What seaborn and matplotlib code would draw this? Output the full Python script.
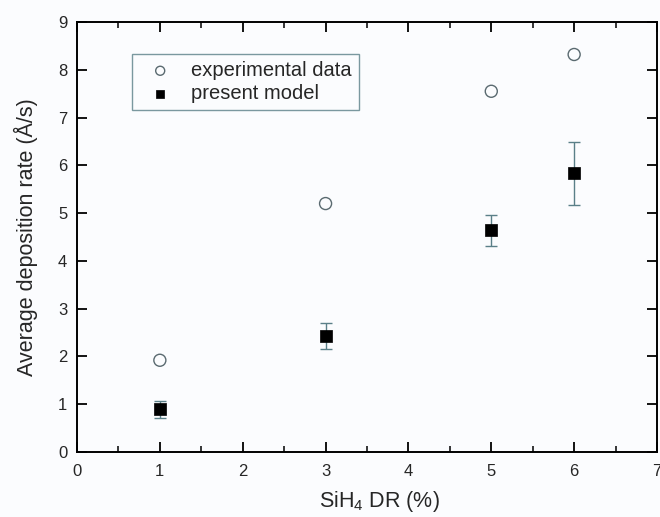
import matplotlib
matplotlib.use("Agg")
import matplotlib.pyplot as plt
import seaborn as sns
import pandas as pd
import numpy as np

x_dr = [1, 3, 5, 6]
exp_rate = [1.92, 5.20, 7.55, 8.32]
model_rate = [0.89, 2.43, 4.64, 5.83]
model_err = [0.17, 0.27, 0.33, 0.65]

sns.set_style("ticks")
plt.rcParams['font.family'] = ['Liberation Sans', 'DejaVu Sans']
plt.rcParams['mathtext.fontset'] = 'custom'
plt.rcParams['mathtext.rm'] = 'Liberation Sans'
plt.rcParams['mathtext.it'] = 'Liberation Sans'

df_exp = pd.DataFrame({"x": x_dr, "y": exp_rate})
df_mod = pd.DataFrame({"x": x_dr, "y": model_rate, "err": model_err})

fig = plt.figure(figsize=(6.6, 5.17), dpi=100)
fig.patch.set_facecolor("#fbfcfe")
ax = fig.add_axes([77/660, 1 - 452/517, 580/660, 430/517])
ax.set_facecolor("#fbfcfe")

ax.errorbar(df_mod["x"], df_mod["y"], yerr=df_mod["err"], fmt="none",
            ecolor="#5a7f88", elinewidth=1.0, capsize=4, capthick=1.0, zorder=2)
sns.scatterplot(data=df_exp, x="x", y="y", ax=ax, marker="o", s=75,
                facecolor="none", edgecolor="#5a6a70", linewidth=1.0,
                label="experimental data", zorder=3)
sns.scatterplot(data=df_mod, x="x", y="y", ax=ax, marker="s", s=65,
                color="black", edgecolor="black", linewidth=0.5,
                label="present model", zorder=4)

ax.set_xlim(0, 7)
ax.set_ylim(0, 9)
ax.set_xticks(range(0, 8))
ax.set_xticks(np.arange(0.5, 7, 1.0), minor=True)
ax.set_yticks(range(0, 10))
ax.tick_params(axis="both", which="major", direction="in", length=7, width=1.3,
               top=True, right=True, labelsize=12, color="black")
ax.tick_params(axis="x", which="major", pad=9)
ax.tick_params(axis="y", which="major", pad=7)
ax.tick_params(axis="x", which="minor", direction="in", length=4, width=1.3,
               top=True, bottom=True)
for sp in ax.spines.values():
    sp.set_linewidth(1.4)
    sp.set_color("black")

ax.set_xlabel("SiH$_4$ DR (%)", fontsize=15.5, labelpad=9)
ax.xaxis.set_label_coords(0.521, -0.085)
ax.set_ylabel("Average deposition rate (Å/s)", fontsize=15.5, labelpad=14)

leg = ax.legend(loc="upper left", bbox_to_anchor=(55/580, 1 - 32/430), frameon=True,
                fancybox=False, edgecolor="#5a7f88", fontsize=14.5,
                handletextpad=0.5, borderpad=0.35, labelspacing=0.2,
                handlelength=2.1, borderaxespad=0, markerscale=0.75)
leg.get_frame().set_linewidth(1.0)
leg.get_frame().set_facecolor("#fbfcfe")

fig.savefig("out.png", dpi=100, facecolor=fig.get_facecolor())
